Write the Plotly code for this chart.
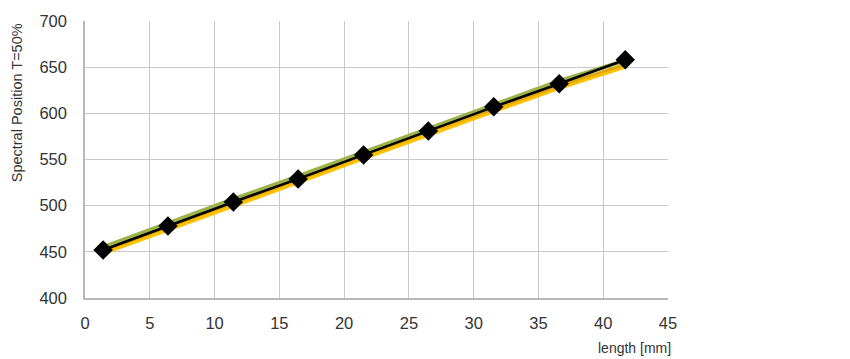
import plotly.graph_objects as go

x_vals = [1.4, 6.4, 11.45, 16.45, 21.5, 26.5, 31.55, 36.6, 41.7]
black_vals = [452, 478, 504, 529, 555, 581, 607, 632, 658]
yellow_vals = [449, 475, 501, 526, 552, 578, 603, 628, 651]
orange_vals = [451, 477, 503, 528, 554, 580, 605, 630, 653]
green_vals = [455, 481, 507, 532, 558, 584, 610, 635, 657]

x_ticks = [0, 5, 10, 15, 20, 25, 30, 35, 40, 45]
y_ticks = [400, 450, 500, 550, 600, 650, 700]

fig = go.Figure()
fig.add_trace(go.Scatter(x=x_vals, y=green_vals, mode="lines",
                         line=dict(color="#9CB24A", width=4)))
fig.add_trace(go.Scatter(x=x_vals, y=yellow_vals, mode="lines",
                         line=dict(color="#FFC000", width=5)))
fig.add_trace(go.Scatter(x=x_vals, y=orange_vals, mode="lines",
                         line=dict(color="#E0A810", width=3)))
fig.add_trace(go.Scatter(x=x_vals, y=black_vals, mode="lines+markers",
                         line=dict(color="#000000", width=2.5),
                         marker=dict(symbol="diamond", size=15, color="#000000")))

fig.update_layout(
    width=850, height=359,
    margin=dict(l=85, r=182, t=18, b=61),
    paper_bgcolor="white", plot_bgcolor="white",
    showlegend=False,
    font=dict(family="Liberation Sans, Arial, sans-serif", color="#333333", size=16),
    xaxis=dict(range=[0, 45], tickvals=x_ticks, showgrid=True, gridcolor="#C8C8C8",
               gridwidth=1, showline=True, linecolor="#B8B8B8", linewidth=1.5,
               ticks="outside", ticklen=9, tickcolor="rgba(0,0,0,0)",
               zeroline=False, tickfont=dict(size=16.5)),
    yaxis=dict(range=[400, 700], tickvals=y_ticks, showgrid=True, gridcolor="#C8C8C8",
               gridwidth=1, showline=True, linecolor="#B8B8B8", linewidth=1.5,
               ticks="outside", ticklen=13, tickcolor="rgba(0,0,0,0)",
               zeroline=False, tickfont=dict(size=16.5)),
    annotations=[
        dict(text="Spectral Position T=50%", xref="paper", yref="paper",
             x=-0.117, y=1.0, xanchor="center", yanchor="top", textangle=-90,
             showarrow=False, font=dict(size=14.5, color="#333333")),
        dict(text="length [mm]", xref="paper", yref="paper",
             x=1.008, y=-0.145, xanchor="right", yanchor="top",
             showarrow=False, font=dict(size=14, color="#333333")),
    ],
)

fig.write_html("out.html")
